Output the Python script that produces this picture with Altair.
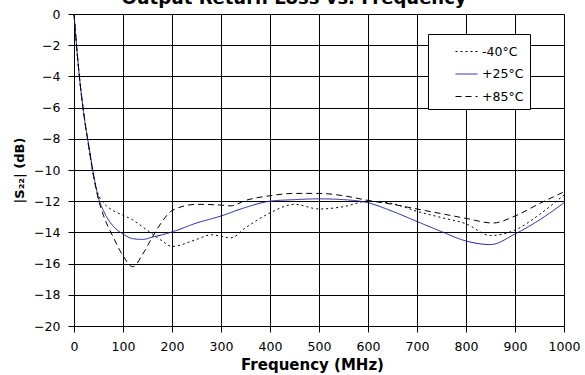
import altair as alt
import pandas as pd

series_names = ["-40°C", "+25°C", "+85°C"]

freq_m40 = [0, 10, 20, 30, 40, 50, 60, 80, 100, 120, 140, 160, 180, 200, 250, 280, 300, 320, 350, 400,
            450, 500, 550, 600, 650, 700, 750, 800, 850, 900, 950, 1000]
s22_m40 = [0, -3.7, -6.4, -8.5, -10.4, -11.6, -12.1, -12.6, -12.9, -13.2, -13.65, -14.1, -14.55, -14.9,
           -14.45, -14.15, -14.25, -14.35, -13.7, -12.75, -12.2, -12.5, -12.35, -12.0, -12.15, -12.65,
           -13.05, -13.45, -14.2, -13.85, -12.85, -11.6]

freq_p25 = [0, 10, 20, 30, 40, 50, 60, 80, 100, 120, 140, 160, 180, 200, 250, 300, 350, 400, 450, 500,
            550, 600, 650, 700, 750, 800, 850, 900, 950, 1000]
s22_p25 = [0, -3.7, -6.4, -8.4, -10.3, -11.8, -12.6, -13.6, -14.1, -14.4, -14.45, -14.3, -14.15, -13.97,
           -13.4, -12.95, -12.4, -12.0, -11.9, -11.85, -11.9, -12.1, -12.65, -13.3, -13.95, -14.55,
           -14.78, -14.1, -13.2, -12.1]

freq_p85 = [0, 10, 20, 30, 40, 50, 60, 80, 100, 120, 140, 160, 180, 200, 250, 300, 320, 350, 400, 450,
            500, 550, 600, 650, 700, 750, 800, 855, 900, 950, 1000]
s22_p85 = [0, -3.7, -6.4, -8.5, -10.4, -11.9, -12.9, -14.3, -15.5, -16.2, -15.4, -14.3, -13.3, -12.6,
           -12.2, -12.25, -12.3, -11.95, -11.65, -11.5, -11.5, -11.65, -11.95, -12.2, -12.5, -12.8,
           -13.1, -13.4, -12.95, -12.15, -11.4]

x_ticks = list(range(0, 1001, 100))
y_ticks = list(range(-20, 1, 2))

rows = []
for name, fs, vs in zip(series_names, [freq_m40, freq_p25, freq_p85], [s22_m40, s22_p25, s22_p85]):
    for f, v in zip(fs, vs):
        rows.append({"Frequency": f, "S22": v, "Series": name})
df = pd.DataFrame(rows)

FONT = "DejaVu Sans"

legend = alt.Legend(title=None, titlePadding=0,
                    orient="none", legendX=354, legendY=20,
                    symbolType="stroke", symbolSize=484, symbolStrokeWidth=1,
                    labelFont=FONT, labelFontSize=12.5, labelColor="black",
                    labelOffset=4, rowPadding=4.5, padding=6, symbolOffset=21,
                    strokeColor="black", fillColor="white", cornerRadius=0)

chart = alt.Chart(df).mark_line(interpolate="monotone", strokeWidth=1).encode(
    x=alt.X("Frequency:Q",
            scale=alt.Scale(domain=[0, 1000], nice=False),
            axis=alt.Axis(values=x_ticks, format="d", title="Frequency (MHz)", grid=True,
                          gridColor="black", gridOpacity=1, gridWidth=1,
                          domainColor="black", tickColor="black", tickSize=6,
                          labelFont=FONT, labelFontSize=12.5, labelColor="black", labelPadding=8,
                          titleFont=FONT, titleFontSize=15, titleFontWeight="bold",
                          titleColor="black", titlePadding=5, titleX=238, labelFlush=False)),
    y=alt.Y("S22:Q",
            scale=alt.Scale(domain=[-20, 0], nice=False),
            axis=alt.Axis(values=y_ticks, title="|S₂₂| (dB)", grid=True,
                          gridColor="black", gridOpacity=1, gridWidth=1,
                          domainColor="black", tickColor="black", tickSize=6,
                          labelFont=FONT, labelFontSize=12.5, labelColor="black", labelPadding=8,
                          titleFont=FONT, titleFontSize=13, titleFontWeight="bold",
                          titleColor="black", titlePadding=7, labelFlush=False)),
    color=alt.Color("Series:N",
                    scale=alt.Scale(domain=series_names, range=["black", "#1c1ca0", "black"]),
                    legend=legend),
    strokeDash=alt.StrokeDash("Series:N",
                              scale=alt.Scale(domain=series_names, range=[[2, 3], [1, 0], [6, 4]]),
                              legend=legend),
).properties(
    width=490,
    height=312,
    title=alt.TitleParams("Output Return Loss vs. Frequency", font=FONT, fontSize=18,
                          fontWeight="bold", color="black", anchor="middle", baseline="alphabetic",
                          offset=1, dx=-25, dy=15),
    padding={"left": 74, "top": 14, "right": 21, "bottom": 49},
    autosize=alt.AutoSizeParams(type="none"),
    background="white",
).configure_view(stroke="#808080", strokeWidth=1)

chart.save("out.html", embed_options={"renderer": "svg", "actions": False})
